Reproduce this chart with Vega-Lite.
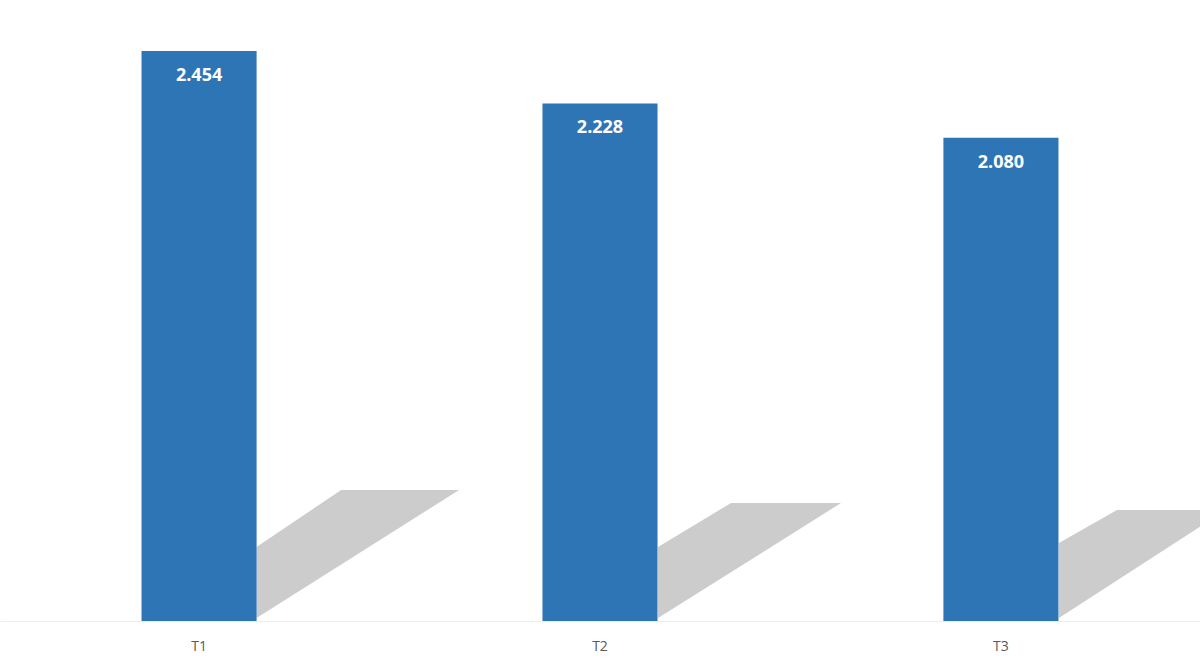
{
  "$schema": "https://vega.github.io/schema/vega-lite/v6.json",
  "width": 1200,
  "height": 604,
  "autosize": {"type": "none"},
  "padding": {"left": 0, "top": 17, "right": 0, "bottom": 39},
  "background": "white",
  "config": {"view": {"stroke": null}},
  "data": {"values": [
    {"t": "T1", "v": 2.454},
    {"t": "T2", "v": 2.228},
    {"t": "T3", "v": 2.080}
  ]},
  "encoding": {
    "x": {
      "field": "t", "type": "nominal",
      "scale": {"paddingInner": 0.713, "paddingOuter": 0.353},
      "axis": {"title": null, "labelAngle": 0, "ticks": false, "domainColor": "#ececec", "domainWidth": 1,
               "labelColor": "#595959", "labelFont": "Open Sans", "labelFontSize": 14, "labelPadding": 18}
    },
    "y": {"field": "v", "type": "quantitative", "scale": {"domain": [0, 2.6]}, "axis": null}
  },
  "layer": [
    {
      "mark": {"type": "point", "filled": true, "fill": "#cccccc", "opacity": 1, "strokeWidth": 0, "size": 40000},
      "encoding": {
        "y": {"datum": 0},
        "shape": {
          "field": "t", "type": "nominal", "legend": null,
          "scale": {"domain": ["T1", "T2", "T3"], "range": [
            "M 0.575 -0.74 L 1.42 -1.31 L 2.6 -1.31 L 0.575 -0.03 Z",
            "M 0.58 -0.74 L 1.31 -1.18 L 2.41 -1.18 L 0.58 -0.03 Z",
            "M 0.58 -0.78 L 1.16 -1.11 L 2.25 -1.11 L 0.58 -0.03 Z"
          ]}
        }
      }
    },
    {
      "mark": {"type": "bar", "color": "#2E75B6"}
    },
    {
      "mark": {"type": "text", "color": "white", "font": "Open Sans", "fontWeight": "bold", "fontSize": 18, "baseline": "middle", "dy": 25},
      "encoding": {
        "text": {"field": "v", "type": "quantitative", "format": ".3f"}
      }
    }
  ]
}
